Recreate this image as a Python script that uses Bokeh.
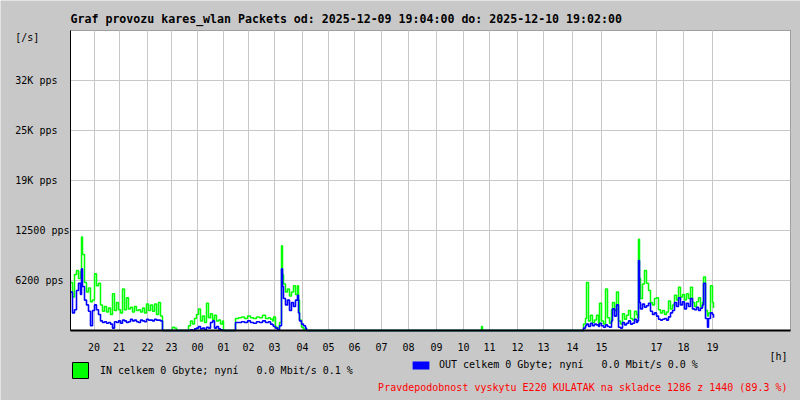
import numpy as np
from bokeh.plotting import figure
from bokeh.models import (FixedTicker, Legend, LegendItem, ColumnDataSource, Label,
                          LinearAxis, Grid, BoxAnnotation)
from bokeh.embed import file_html
from bokeh.resources import INLINE

# ---------------- data ----------------
title_text = "Graf provozu kares_wlan Packets od: 2025-12-09 19:04:00 do: 2025-12-10 19:02:00"

hour_labels = ["20", "21", "22", "23", "00", "01", "02", "03", "04", "05", "06", "07",
               "08", "09", "10", "11", "12", "13", "14", "15", "17", "18", "19"]
hour_index = [23.5, 48.5, 77, 101, 127, 153, 178, 204, 232, 258, 284, 311,
              338, 366, 393, 419, 447, 473, 502, 531, 586, 613, 642]

y_ticks = [6250, 12500, 18750, 25000, 31250]
y_labels = ["6200 pps", "12500 pps", "19K pps", "25K pps", "32K pps"]
y_unit = "[/s]"
x_unit = "[h]"

# sample index (one sample per pixel column) and packets per second
idx_a = [0, 2, 4, 6, 8, 10, 11, 12, 14, 16, 18, 20, 22, 24, 26, 28, 30, 32, 34, 36,
         38, 40, 42, 44, 46, 48, 50, 52, 54, 56, 58, 60, 62, 64, 66, 68, 70, 72, 74, 76,
         78, 80, 82, 84, 86, 88, 90, 92]
in_a = [6000, 4200, 7000, 7500, 6500, 7400, 11700, 9500, 6000, 4800, 5300, 3600, 3800, 7100,
        5600, 5900, 3200, 2400, 3000, 2300, 2800, 2000, 4600, 2500, 3500, 2600, 2200, 5200,
        2600, 4100, 2700, 2900, 2300, 3000, 2500, 2600, 2300, 2800, 2200, 3300, 2500, 3200,
        2400, 3300, 2000, 3500, 1800, 0]
out_a = [4800, 2200, 2600, 5000, 5900, 4500, 7700, 5500, 3800, 3200, 2400, 600, 2500, 3200,
         2600, 2000, 1200, 1000, 1100, 900, 1000, 800, 300, 1100, 1000, 1200, 900, 1300,
         1200, 1000, 1100, 1400, 1200, 1300, 1100, 1000, 1300, 1200, 1100, 1400, 1300, 1300,
         1200, 1400, 1300, 1300, 1200, 0]

idx_b = [102, 104, 106, 118, 120, 122, 124, 126, 128, 130, 132, 134, 136, 138, 140, 142,
         144, 146, 148, 150, 152, 153]
in_b = [400, 300, 0, 600, 1200, 800, 1500, 2000, 2700, 1200, 1800, 1000, 3400, 1600, 2100,
        1400, 1900, 1200, 1300, 800, 1200, 0]
out_b = [0, 0, 0, 0, 100, 0, 200, 300, 500, 200, 300, 100, 400, 300, 1000, 1200, 300, 500,
         200, 100, 0, 0]

idx_c = [165, 168, 171, 174, 177, 180, 183, 186, 189, 192, 195, 198, 200, 202, 203, 205, 207, 209]
in_c = [1500, 1600, 1700, 1500, 1800, 1600, 1500, 1700, 1600, 1900, 1500, 1600, 1400, 1200,
        1700, 400, 300, 1000]
out_c = [1000, 1000, 1100, 1000, 1200, 1000, 900, 1100, 1000, 1200, 1000, 1100, 800, 700,
         500, 300, 100, 600]

idx_d = [211, 212, 213, 215, 217, 219, 221, 223, 225, 227, 228, 229, 231, 233, 235, 236]
in_d = [10600, 7000, 5800, 4800, 5200, 4300, 4800, 5600, 4500, 5600, 3800, 1300, 400, 200, 0, 0]
out_d = [7700, 5500, 4000, 3200, 3800, 2500, 3500, 3000, 3800, 4400, 2200, 1200, 800, 600, 300, 0]

idx_e = [410, 411, 412]
in_e = [0, 500, 0]
out_e = [0, 0, 0]

idx_f = [513, 515, 516, 518, 520, 522, 524, 526, 528, 529, 531, 533, 535, 537, 539, 541,
         542, 544, 546, 548, 550, 552, 554, 556, 558, 560, 562, 564, 566, 567]
in_f = [800, 1500, 6000, 1200, 1900, 1000, 1300, 1900, 900, 3400, 1200, 800, 5200, 1600, 900,
        2600, 3500, 2500, 4800, 1200, 800, 2100, 1400, 1900, 2500, 1500, 1300, 2400, 2000, 1600]
out_f = [300, 600, 800, 500, 900, 600, 800, 700, 500, 900, 600, 400, 700, 500, 400, 1200,
         2700, 1800, 3200, 400, 300, 1000, 700, 900, 1200, 800, 900, 1400, 1000, 1200]

idx_g = [568, 569, 570, 572, 574, 576, 578, 580, 582, 584, 586, 588, 590, 592, 594, 596,
         598, 600, 602, 604, 606, 608, 610, 612, 614, 616, 618, 620, 622, 624, 626, 628,
         630, 632, 633, 635, 637, 638, 640, 642, 643]
in_g = [11400, 6500, 4000, 5800, 7500, 5900, 5000, 3500, 3200, 4000, 4100, 2600, 2200, 2500,
        2000, 2300, 3700, 2700, 3200, 4400, 3800, 5400, 4200, 4500, 3800, 4600, 4000, 5400,
        3500, 3000, 3600, 4100, 3000, 3500, 6700, 2500, 1800, 2200, 5600, 3500, 2800]
out_g = [8750, 3500, 2700, 3300, 2900, 3100, 3400, 2400, 2000, 2200, 1800, 1400, 1300, 1400,
         1500, 1300, 1700, 2200, 2500, 3500, 3000, 4100, 3200, 3600, 2700, 3400, 3000, 4000,
         2700, 2600, 2900, 2500, 2800, 3200, 5900, 1500, 400, 1500, 2200, 2000, 1600]

sample_idx = idx_a + idx_b + idx_c + idx_d + idx_e + idx_f + idx_g
in_pps = in_a + in_b + in_c + in_d + in_e + in_f + in_g
out_pps = out_a + out_b + out_c + out_d + out_e + out_f + out_g

in_text = "IN celkem 0 Gbyte; nyní\u00a0\u00a0\u00a00.0 Mbit/s 0.1 %"
out_text = "OUT celkem 0 Gbyte; nyní\u00a0\u00a0\u00a00.0 Mbit/s 0.0 %"
note_text = "Pravdepodobnost vyskytu E220 KULATAK na skladce 1286 z 1440 (89.3 %)"

# ---------------- figure ----------------
BG = "#c8c8c8"
FONT = "DejaVu Sans Mono"
X_MAX = 720
Y_MAX = 37500
PX_Y = Y_MAX / 300.0      # value per pixel vertically
LEFT, TOP = 70, 30        # plot-area offset inside the 800x400 canvas
W, H = 800, 400

# the frame spans the whole canvas; the data area (0..X_MAX, 0..Y_MAX) sits inside it
p = figure(width=W, height=H,
           x_range=(-LEFT, W - LEFT), y_range=(-(H - TOP - 300) * PX_Y, Y_MAX + TOP * PX_Y),
           x_axis_type=None, y_axis_type=None,
           output_backend="svg", toolbar_location=None,
           min_border=0, min_border_left=0, min_border_right=0, min_border_top=0,
           min_border_bottom=0, background_fill_color=BG, border_fill_color=BG,
           outline_line_color=None)

# white plot area with black frame
p.add_layout(BoxAnnotation(left=0, right=X_MAX, bottom=0, top=Y_MAX, fill_color="white",
                           fill_alpha=1, line_color="black", line_width=1, level="image"))

# grids restricted to the plot area
grid_kw = dict(grid_line_color=BG, grid_line_width=1)
try:
    xgrid = Grid(dimension=0, ticker=FixedTicker(ticks=hour_index),
                 cross_bounds=(0, Y_MAX), **grid_kw)
    ygrid = Grid(dimension=1, ticker=FixedTicker(ticks=y_ticks),
                 cross_bounds=(0, X_MAX), **grid_kw)
except Exception:
    xgrid = Grid(dimension=0, ticker=FixedTicker(ticks=hour_index), **grid_kw)
    ygrid = Grid(dimension=1, ticker=FixedTicker(ticks=y_ticks), **grid_kw)
p.add_layout(xgrid, "center")
p.add_layout(ygrid, "center")

src = ColumnDataSource(dict(t=sample_idx, inp=in_pps, outp=out_pps))
p.step("t", "inp", source=src, mode="after", line_color="#00ff00", line_width=1.5)
p.step("t", "outp", source=src, mode="after", line_color="#0000ff", line_width=1.6)

# x axis (hours) placed at y = 0
xa = LinearAxis(fixed_location=0, bounds=(0, X_MAX),
                ticker=FixedTicker(ticks=hour_index),
                major_label_overrides={t: l for t, l in zip(hour_index, hour_labels)},
                major_tick_line_color=None, minor_tick_line_color=None,
                major_tick_out=0, major_tick_in=0, major_label_standoff=12,
                axis_line_color="black", axis_line_width=2,
                major_label_text_font=FONT, major_label_text_font_size="10px",
                major_label_text_color="black")
p.add_layout(xa, "below")

# y axis at x = 0; labels padded to equal width so they start at the same x
unit_pos = Y_MAX - 6.7 * PX_Y
width = max(len(s) for s in y_labels)
ya = LinearAxis(fixed_location=0, bounds=(0, Y_MAX),
                ticker=FixedTicker(ticks=y_ticks + [unit_pos]),
                major_label_overrides={t: l + "\u00a0" * (width - len(l))
                                       for t, l in zip(y_ticks + [unit_pos], y_labels + [y_unit])},
                major_tick_line_color=None, minor_tick_line_color=None,
                major_tick_out=0, major_tick_in=0, major_label_standoff=1,
                axis_line_color="black", axis_line_width=1,
                major_label_text_font=FONT, major_label_text_font_size="10px",
                major_label_text_color="black")
p.add_layout(ya, "left")


def lab(text, x, y, align="left", size="10px", color="black", bold=False):
    p.add_layout(Label(x=x, y=y, text=text, text_align=align, text_baseline="middle",
                       text_font=FONT, text_font_size=size, text_color=color,
                       text_font_style="bold" if bold else "normal"))


lab(title_text, 0, Y_MAX + 11.7 * PX_Y, size="11.6px", bold=True)
lab(x_unit, 717, -26 * PX_Y, align="right")
lab(note_text, 717, -56.7 * PX_Y, align="right", color="#ff0000")

# legend swatches: renderers with a single undefined (NaN) row, so only the legend icon shows
nan_src = dict(left=np.array([np.nan]), right=np.array([np.nan]),
               top=np.array([np.nan]), bottom=np.array([np.nan]))
in_box = p.quad(source=ColumnDataSource(nan_src), left="left", right="right", top="top",
                bottom="bottom", fill_color="#00ff00", line_color="black", line_width=1)
out_box = p.quad(source=ColumnDataSource(dict(nan_src)), left="left", right="right", top="top",
                 bottom="bottom", fill_color="#0000ff", line_color=None)

common = dict(orientation="horizontal", padding=0, margin=0, spacing=0,
              border_line_color=None, background_fill_alpha=0, label_text_font=FONT,
              label_text_font_size="10px", label_text_color="black")
leg_in = Legend(items=[LegendItem(label=in_text, renderers=[in_box])],
                location=(LEFT, H - 380), glyph_width=20, glyph_height=20,
                label_standoff=10, label_height=20, label_text_baseline="alphabetic", **common)
leg_out = Legend(items=[LegendItem(label=out_text, renderers=[out_box])],
                 location=(410, H - 370), glyph_width=21, glyph_height=10,
                 label_standoff=8, label_height=10, **common)
p.add_layout(leg_in, "center")
p.add_layout(leg_out, "center")

open("out.html", "w").write(file_html(p, INLINE))
